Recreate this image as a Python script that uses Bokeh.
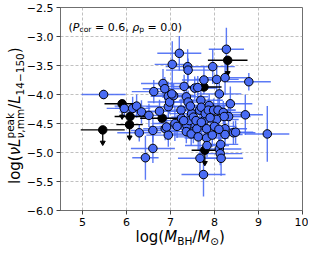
import math
from bokeh.plotting import figure
from bokeh.models import Label, FixedTicker, Div
from bokeh.embed import file_html
from bokeh.resources import INLINE

# ---------------- data ----------------
blue_x = [5.48, 5.95, 6.14, 6.23, 6.34, 6.51, 6.29, 6.60, 6.60, 6.43,
          6.62, 6.75, 6.83, 6.87, 6.88, 6.95, 6.95, 6.95, 6.91, 6.98,
          7.04, 7.07, 7.03, 7.10, 7.20, 7.24, 7.25, 7.31, 7.36, 7.39,
          7.40, 7.40, 7.37, 7.36, 7.43, 7.48, 7.52, 7.52, 7.47, 7.55,
          7.62, 7.69, 7.66, 7.70, 7.76, 7.78, 7.79, 7.60, 7.63, 7.67,
          7.75, 7.82, 7.82, 7.83, 7.88, 7.86, 7.98, 7.96, 8.05, 8.05,
          8.11, 8.08, 8.11, 8.13, 8.15, 8.14, 8.24, 8.27, 8.20, 8.24,
          8.24, 8.36, 8.32, 8.43, 8.48, 8.70, 8.78, 9.20, 7.15, 7.30,
          7.45, 7.58, 7.70, 8.00, 8.10, 7.90, 7.95, 8.22]
blue_y = [-4.00, -4.24, -4.24, -4.20, -4.30, -4.36, -4.66, -4.62, -4.93, -5.09,
          -3.95, -4.29, -3.81, -3.90, -4.59, -4.03, -4.21, -4.70, -4.56, -4.13,
          -3.48, -4.02, -3.99, -4.50, -3.29, -4.27, -4.41, -3.86, -4.04, -3.52,
          -3.58, -4.13, -4.53, -4.64, -4.45, -4.33, -4.39, -4.64, -4.68, -3.89,
          -3.88, -4.10, -4.27, -4.22, -3.75, -4.44, -4.33, -4.59, -4.73, -5.10,
          -5.38, -4.59, -4.75, -4.88, -4.19, -4.27, -4.27, -3.52, -3.74, -4.43,
          -3.99, -4.27, -4.94, -5.02, -5.10, -4.86, -3.71, -3.22, -4.31, -4.59,
          -4.69, -4.16, -4.38, -4.66, -4.65, -4.35, -3.78, -4.68, -4.55, -4.45,
          -4.20, -4.45, -4.48, -4.55, -4.60, -4.40, -4.70, -4.38]
blue_xerr = [0.50, 0.40, 0.40, 0.50, 0.50, 0.40, 0.50, 0.50, 0.50, 0.30,
             0.50, 0.50, 0.50, 0.50, 0.50, 0.40, 0.50, 0.50, 0.40, 0.50,
             0.40, 0.50, 0.40, 0.50, 0.50, 0.50, 0.50, 0.50, 0.50, 0.50,
             0.50, 0.50, 0.50, 0.50, 0.40, 0.50, 0.50, 0.50, 0.50, 0.50,
             0.40, 0.50, 0.50, 0.50, 0.50, 0.50, 0.50, 0.40, 0.50, 0.50,
             0.50, 0.40, 0.50, 0.50, 0.50, 0.50, 0.50, 0.50, 0.50, 0.50,
             0.50, 0.40, 0.50, 0.50, 0.50, 0.40, 0.50, 0.40, 0.50, 0.50,
             0.40, 0.50, 0.50, 0.50, 0.40, 0.40, 0.50, 0.50, 0.40, 0.50,
             0.50, 0.50, 0.40, 0.50, 0.40, 0.50, 0.50, 0.40]
blue_yerr = [0.08, 0.15, 0.20, 0.20, 0.20, 0.20, 0.15, 0.20, 0.25, 0.38,
             0.20, 0.20, 0.25, 0.20, 0.20, 0.25, 0.20, 0.20, 0.20, 0.20,
             0.40, 0.20, 0.20, 0.30, 0.30, 0.20, 0.20, 0.20, 0.25, 0.30,
             0.20, 0.20, 0.20, 0.20, 0.20, 0.20, 0.30, 0.20, 0.20, 0.20,
             0.20, 0.20, 0.20, 0.20, 0.25, 0.20, 0.20, 0.20, 0.20, 0.30,
             0.38, 0.20, 0.20, 0.20, 0.20, 0.20, 0.20, 0.30, 0.20, 0.20,
             0.20, 0.20, 0.20, 0.20, 0.30, 0.20, 0.30, 0.37, 0.20, 0.20,
             0.20, 0.30, 0.20, 0.20, 0.20, 0.35, 0.15, 0.48, 0.20, 0.20,
             0.20, 0.20, 0.20, 0.20, 0.20, 0.20, 0.20, 0.20]

black_x = [5.46, 5.90, 6.08, 6.07, 6.81, 8.30, 7.76, 7.78]
black_y = [-4.61, -4.16, -4.38, -4.52, -4.41, -3.41, -3.87, -4.96]
black_xerr = [0.50, 0.40, 0.35, 0.30, 0.50, 0.45, 0.40, 0.30]
black_uplim = [True, True, False, True, False, True, False, True]

x_ticks = [5, 6, 7, 8, 9, 10]
x_tick_labels = ["5", "6", "7", "8", "9", "10"]
y_ticks = [-6.0, -5.5, -5.0, -4.5, -4.0, -3.5, -3.0, -2.5]
y_tick_labels = ["\u22126.0", "\u22125.5", "\u22125.0", "\u22124.5",
                 "\u22124.0", "\u22123.5", "\u22123.0", "\u22122.5"]
arrow_len = 0.22

# ---------------- geometry ----------------
FONT = "DejaVu Sans"
SHIFT = 8                        # figure shifted right on the page
W, H = 300, 253
ML, MR, MT, MB = 52, 6, 7, 43
# frame box in page pixels
FL, FT = SHIFT + ML, MT
FW = W - ML - MR
FH = H - MT - MB

p = figure(width=W, height=H, x_range=(4.5, 10), y_range=(-6, -2.5),
           output_backend="svg", toolbar_location=None,
           min_border_left=ML, min_border_right=MR, min_border_top=MT,
           min_border_bottom=MB, margin=(0, 0, 0, SHIFT))
p.background_fill_color = "white"
p.border_fill_color = None
p.outline_line_color = "#6f6f6f"
p.outline_line_width = 1

for ax, ticks, labels in ((p.xaxis[0], x_ticks, x_tick_labels),
                          (p.yaxis[0], y_ticks, y_tick_labels)):
    ax.ticker = FixedTicker(ticks=ticks)
    ax.major_label_overrides = {t: l for t, l in zip(ticks, labels)}
    ax.minor_tick_line_color = None
    ax.major_tick_in = 0
    ax.major_tick_out = 4
    ax.major_tick_line_color = "#444444"
    ax.axis_line_color = "#6f6f6f"
    ax.major_label_text_font = FONT
    ax.major_label_text_font_size = "11px"
    ax.major_label_text_color = "black"
    ax.major_label_standoff = 3
    ax.axis_label = None

for g, ticks in ((p.xgrid[0], x_ticks), (p.ygrid[0], y_ticks)):
    g.ticker = FixedTicker(ticks=ticks)
    g.grid_line_color = "#b0b0b0"
    g.grid_line_dash = "3 2"
    g.grid_line_width = 0.8

BLUE = "#4a6cf4"

# blue error bars
p.segment([x - e for x, e in zip(blue_x, blue_xerr)], blue_y,
          [x + e for x, e in zip(blue_x, blue_xerr)], blue_y,
          line_color=BLUE, line_width=1.4, line_alpha=0.9)
p.segment(blue_x, [y - e for y, e in zip(blue_y, blue_yerr)],
          blue_x, [y + e for y, e in zip(blue_y, blue_yerr)],
          line_color=BLUE, line_width=1.4, line_alpha=0.9)

# black points (upper limits)
p.segment([x - e for x, e in zip(black_x, black_xerr)], black_y,
          [x + e for x, e in zip(black_x, black_xerr)], black_y,
          line_color="black", line_width=1.4)
ux = [x for x, u in zip(black_x, black_uplim) if u]
uy = [y for y, u in zip(black_y, black_uplim) if u]
p.segment(ux, uy, ux, [y - arrow_len for y in uy], line_color="black", line_width=1.3)
p.scatter(ux, [y - arrow_len for y in uy], marker="inverted_triangle", size=5,
          fill_color="black", line_color="black")
p.scatter(black_x, black_y, size=8.5, fill_color="black", line_color="black", line_width=1)

# blue markers
p.scatter(blue_x, blue_y, size=8.5, fill_color=BLUE, line_color="black", line_width=1)

# ---------------- in-frame annotation ----------------


def xd(px):
    return 4.5 + (px - FL) * 5.5 / FW


def yd(py):
    return -2.5 - (py - FT) * 3.5 / FH


EM = {"(": .391, ")": .391, " ": .318, "=": .838, ".": .318, ",": .318,
      "P": .603, "c": .550, "o": .612, "r": .411, "\u03c1": .635, "p": .635}


def tw(s, size):
    return sum(EM.get(c, .636) for c in s) * size


F2, S2 = 11, 7.7
cx, by = 68.0, 27.0
sp = tw(" ", F2)
for txt, size, style, dy, gap in [("(", F2, "normal", 0, 0), ("P", F2, "italic", 0, 0),
                                  ("cor", S2, "normal", 2.4, sp), ("= 0.6,", F2, "normal", 0, sp),
                                  ("\u03c1", F2, "italic", 0, 0), ("p", S2, "normal", 2.4, sp),
                                  ("= 0.0)", F2, "normal", 0, 0)]:
    p.add_layout(Label(x=xd(cx), y=yd(by + dy), text=txt, text_font=FONT,
                       text_font_size=f"{size}px", text_font_style=style,
                       text_align="left", text_baseline="alphabetic",
                       text_color="black"))
    cx += tw(txt, size) + gap

# ---------------- axis titles as HTML text, overlaid at page origin ----------------
BASE = ("white-space:nowrap;font-family:'DejaVu Sans';font-size:15px;"
        "line-height:15px;color:black;width:max-content;height:0;overflow:visible;"
        "transform-origin:0 0;position:relative;z-index:10;")
SUB = "font-size:10.5px;position:relative;top:{}px;"

x_html = (f'<div style="{BASE}transform:translate(135.5px,229.8px);">'
          'log(<i>M</i>'
          f'<span style="{SUB.format(3.3)}">BH</span>/'
          '<i>M</i>'
          f'<span style="{SUB.format(3.3)}">\u2299</span>)</div>')

y_html = (f'<div style="{BASE}transform:translate(7.8px,184px) rotate(-90deg);">'
          'log(<i>\u03bd</i><i>L</i>'
          f'<span style="display:inline-block;width:0;{SUB.format(-6.5)}">peak</span>'
          f'<span style="{SUB.format(3.5)}"><i>\u03bd</i>,mm</span>/'
          '<i>L</i>'
          f'<span style="{SUB.format(3.5)}">14\u2212150</span>)</div>')

titles = Div(text=x_html + y_html, width=300, height=1, margin=(0, 0, 0, 0),
             styles={"position": "absolute", "left": "0px", "top": "0px",
                     "overflow": "visible", "z-index": "10"})

open("out.html", "w").write(file_html([p, titles], INLINE))
